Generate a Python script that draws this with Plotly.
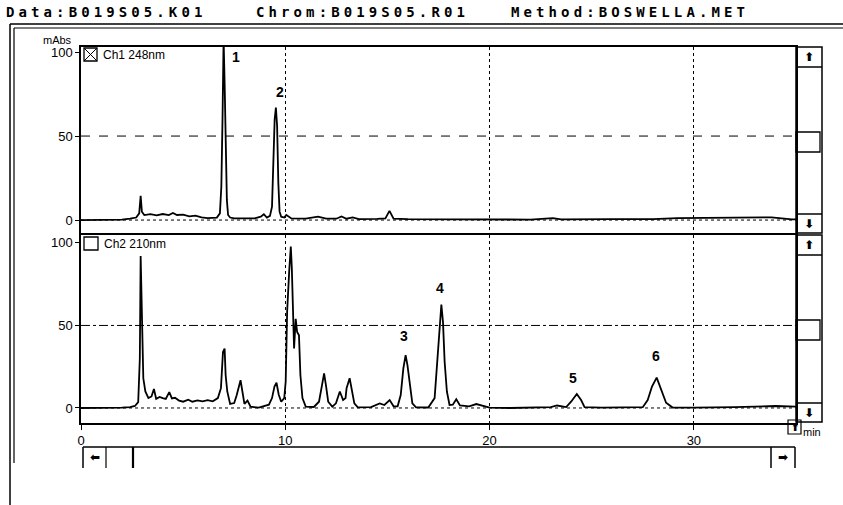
import plotly.graph_objects as go

# ---------------- data ----------------
ch1_time = [0, 1.0, 2.0, 2.4, 2.7, 2.85, 2.92, 2.98, 3.1, 3.4, 3.7, 4.0, 4.3, 4.5, 4.7, 5.0,
            5.3, 5.6, 5.9, 6.2, 6.5, 6.65, 6.8, 6.87, 6.93, 6.98, 7.03, 7.08, 7.14, 7.2, 7.3,
            7.5, 8.0, 8.5, 8.8, 8.95, 9.1, 9.25, 9.35, 9.42, 9.48, 9.54, 9.6, 9.66, 9.72, 9.8,
            9.95, 10.05, 10.3, 11.0, 11.6, 12.0, 12.5, 12.75, 13.0, 13.3, 13.6, 14.5, 14.9,
            15.1, 15.3, 16, 18, 20, 22, 23.1, 23.5, 26, 28, 29.2, 31, 33.8, 34.8, 35]
ch1_mabs = [0, 0, 0.3, 0.8, 1.5, 4, 14.5, 5, 3, 3.5, 2.8, 3.6, 3, 4.2, 3, 3.2,
            2.2, 2.6, 1.6, 1.2, 1.2, 1.5, 4, 20, 62, 108, 82, 45, 12, 3, 1.5,
            1, 0.8, 1, 2, 3.5, 1.5, 2.5, 8, 30, 60, 67, 56, 22, 5, 2,
            1.5, 3, 1, 0.8, 2, 0.8, 0.8, 2.2, 0.8, 1.6, 0.6, 0.7, 1,
            5.5, 0.8, 0.5, 0.4, 0.4, 0.3, 1.2, 0.4, 0.5, 0.6, 1.2, 1.3, 1.6, 0.4, 0.4]

ch2_time = [0, 1, 2.0, 2.4, 2.64, 2.8, 2.88, 2.92, 2.96, 3.0, 3.05, 3.15, 3.3, 3.45, 3.57,
            3.68, 3.85, 4.0, 4.15, 4.32, 4.45, 4.6, 4.8, 5.0, 5.25, 5.45, 5.7, 5.95, 6.2,
            6.45, 6.7, 6.85, 6.95, 7.03, 7.08, 7.16, 7.3, 7.5, 7.62, 7.81, 7.9, 8.0, 8.15,
            8.3, 8.7, 9.0, 9.2, 9.35, 9.47, 9.57, 9.68, 9.8, 9.95, 10.02, 10.09, 10.19,
            10.27, 10.32, 10.38, 10.43, 10.51, 10.58, 10.67, 10.74, 10.84, 11.0, 11.4,
            11.65, 11.8, 11.9, 12.0, 12.1, 12.3, 12.48, 12.67, 12.83, 12.95, 13.0, 13.15,
            13.27, 13.38, 13.55, 14.2, 14.62, 14.85, 15.11, 15.3, 15.5, 15.65, 15.78,
            15.89, 15.98, 16.1, 16.22, 16.4, 17.0, 17.31, 17.42, 17.52, 17.64, 17.72,
            17.8, 17.91, 18.04, 18.2, 18.37, 18.55, 19.0, 19.35, 19.6, 20.0, 21, 22, 23,
            23.3, 23.75, 23.99, 24.27, 24.48, 24.65, 25.5, 26.5, 27.5, 27.74, 27.95,
            28.18, 28.4, 28.64, 28.96, 30, 32, 34, 35]
ch2_mabs = [0, 0, 0.2, 0.5, 1.2, 3.5, 30, 92, 62, 40, 18, 10, 6, 7, 11.5,
            5.5, 6.7, 6, 5.5, 9.6, 5.8, 6.2, 4.5, 3.8, 5, 3.8, 4.6, 4, 4.8,
            4, 6, 12, 34, 36, 20, 10, 2.5, 3, 7.7, 16.8, 10, 2.5, 4.5,
            0.8, 0.2, 1.2, 2, 6, 13, 15.3, 8, 3.8, 6, 16, 58, 82.6,
            97.8, 85, 64, 36, 54, 46, 44, 20, 6, 0.8, 0.6,
            3.8, 14, 21, 12.9, 3.8, 0.8, 2.8, 10, 4.8, 6, 12, 18,
            10, 2.8, 0.4, 0.5, 2.8, 1.8, 4.8, 1, 1, 7.8, 24,
            32, 26, 14, 2.8, 0.4, 0.3, 6, 24, 44, 62.6, 52,
            28, 10, 1.8, 2, 5.3, 1.5, 1, 2.4, 1.5, 0.2, 0, 0.2, 0.5,
            1.5, 0.5, 3.8, 8.5, 4.8, 0.5, 0.2, 0.2, 0.5, 4.8, 13,
            18.4, 11, 3.2, 0.3, 0.2, 0.5, 1.2, 0.8]

peak_labels = ["1", "2", "3", "4", "5", "6"]
peak_label_time = [7.6, 9.73, 15.8, 17.55, 24.06, 28.17]
peak_label_mabs = [97, 76, 43.6, 72.7, 18, 31.5]
peak_label_panel = [1, 1, 2, 2, 2, 2]

x_tick_vals = [0, 10, 20, 30]
x_tick_text = ["0", "10", "20", "30"]
y_tick_vals = [0, 50, 100]
y_tick_text = ["0", "50", "100"]

header_texts = ["Data:B019S05.K01", "Chrom:B019S05.R01", "Method:BOSWELLA.MET"]
channel_names = ["Ch1 248nm", "Ch2 210nm"]

# ---------------- geometry helpers (pixel -> paper) ----------------
W, H = 843, 505
ML, MR, MT, MB = 81, 47, 47, 82
PW, PH = W - ML - MR, H - MT - MB


def px(x):
    return (x - ML) / PW


def py(y):
    return (H - MB - y) / PH


FONT = "Liberation Sans"
fig = go.Figure()

fig.add_trace(go.Scatter(x=ch1_time, y=ch1_mabs, mode="lines", xaxis="x", yaxis="y",
                         line=dict(color="black", width=1.8), hoverinfo="skip", showlegend=False))
fig.add_trace(go.Scatter(x=ch2_time, y=ch2_mabs, mode="lines", xaxis="x2", yaxis="y2",
                         line=dict(color="black", width=1.8), hoverinfo="skip", showlegend=False))

shapes = []
annotations = []

# header (first three annotations; letter-spacing adjusted in post_script)
for txt, x0 in zip(header_texts, [4, 254, 509]):
    annotations.append(dict(text=txt, xref="paper", yref="paper", x=px(x0), y=py(12),
                            xanchor="left", yanchor="middle", align="left", showarrow=False,
                            font=dict(family="DejaVu Sans Mono", size=14, color="black", weight="bold")))


def line(x0, y0, x1, y1, w=1.2, dash="solid"):
    shapes.append(dict(type="line", xref="paper", yref="paper", x0=px(x0), y0=py(y0),
                       x1=px(x1), y1=py(y1), line=dict(color="black", width=w, dash=dash)))


def rect(x0, y0, x1, y1, w=1.3):
    shapes.append(dict(type="rect", xref="paper", yref="paper", x0=px(x0), y0=py(y0),
                       x1=px(x1), y1=py(y1), line=dict(color="black", width=w)))


def text(t, x, y, size=11, xa="center", fam=FONT, bold=False):
    annotations.append(dict(text=t, xref="paper", yref="paper", x=px(x), y=py(y),
                            xanchor=xa, yanchor="middle", showarrow=False,
                            font=dict(family=fam, size=size, color="black",
                                      weight="bold" if bold else "normal")))


# window frame
line(10, 24, 843, 24, 1.5)
line(14, 28, 843, 28, 1.2)
line(10, 24, 10, 505, 1.5)
line(14, 28, 14, 463, 1.2)

# mAbs label
text("mAbs", 57, 40, 11)

# channel check boxes
rect(84, 48, 97, 61)
line(84, 48, 97, 61, 1)
line(84, 61, 97, 48, 1)
text(channel_names[0], 101, 55, 12, xa="left")
rect(84, 237, 98, 250)
text(channel_names[1], 102, 244, 12, xa="left")

# vertical scrollbars
for (top, bot, thumb) in [(47, 233, 132), (235, 422, 320)]:
    rect(796, top, 822, bot, 1.5)
    line(796, top + 20, 822, top + 20, 1.5)
    line(796, bot - 19, 822, bot - 19, 1.5)
    rect(796, thumb, 820, thumb + 20, 1.3)
    text("⬆", 809, top + 10, 12, fam="DejaVu Sans", bold=True)
    text("⬇", 809, bot - 9, 12, fam="DejaVu Sans", bold=True)

# min button
rect(788, 420, 801, 434, 1.2)
text("⬆", 794.5, 427, 10, fam="DejaVu Sans", bold=True)
text("min", 801, 432, 11, xa="left")

# horizontal scrollbar
line(83, 447, 795, 447, 1.5)
line(83, 447, 83, 468, 1.5)
line(106, 447, 106, 468, 1.2)
line(133, 447, 133, 468, 2.2)
line(771, 447, 771, 468, 1.5)
line(795, 447, 795, 468, 1.5)
text("⬅", 95, 457, 12, fam="DejaVu Sans", bold=True)
text("➡", 783, 457, 12, fam="DejaVu Sans", bold=True)

# horizontal grid lines
for yref in ["y", "y2"]:
    shapes.append(dict(type="line", xref="x domain" if yref == "y" else "x2 domain", yref=yref,
                       x0=0, x1=1, y0=50, y1=50,
                       line=dict(color="black", width=1, dash="dash" if yref == "y" else "dashdot"),
                       layer="below"))
    shapes.append(dict(type="line", xref="x domain" if yref == "y" else "x2 domain", yref=yref,
                       x0=0, x1=1, y0=0, y1=0,
                       line=dict(color="black", width=1, dash="dot"), layer="below"))

# peak labels
for lab, t, v, p in zip(peak_labels, peak_label_time, peak_label_mabs, peak_label_panel):
    annotations.append(dict(text=lab, x=t, y=v, xref="x" if p == 1 else "x2",
                            yref="y" if p == 1 else "y2", showarrow=False,
                            font=dict(family=FONT, size=14, color="black", weight="bold")))

axis_common = dict(showline=True, mirror=True, linecolor="black", linewidth=1.5,
                   zeroline=False, tickfont=dict(family=FONT, size=13, color="black"),
                   fixedrange=True)

fig.update_layout(
    width=W, height=H,
    margin=dict(l=ML, r=MR, t=MT, b=MB),
    paper_bgcolor="white", plot_bgcolor="white",
    showlegend=False,
    xaxis=dict(domain=[0, 1], anchor="y", range=[0, 35], tickvals=[10, 20, 30],
               showticklabels=False, ticks="", showgrid=True, gridcolor="black",
               griddash="dot", gridwidth=1, **axis_common),
    xaxis2=dict(domain=[0, 1], anchor="y2", range=[0, 35], tickvals=x_tick_vals,
                ticktext=x_tick_text, ticks="outside", ticklen=5, tickcolor="black",
                showgrid=True, gridcolor="black", griddash="dot", gridwidth=1, **axis_common),
    yaxis=dict(domain=[(H - MB - 233) / PH, 1], anchor="x", range=[-7.7, 103],
               tickvals=y_tick_vals, ticktext=y_tick_text, ticks="outside", ticklen=4,
               tickcolor="black", showgrid=False, **axis_common),
    yaxis2=dict(domain=[0, (H - MB - 235) / PH], anchor="x2", range=[-9.1, 104.8],
                tickvals=y_tick_vals, ticktext=y_tick_text, ticks="outside", ticklen=4,
                tickcolor="black", showgrid=False, **axis_common),
    shapes=shapes,
    annotations=annotations,
    font=dict(family=FONT, color="black"),
)

post = """
document.body.style.margin = '0';
document.body.style.overflow = 'hidden';
var gd = document.getElementById('{plot_id}');
function ls(){
  gd.querySelectorAll('g.annotation').forEach(function(g){
    var i = +g.getAttribute('data-index');
    if (i < 3) {
      var t = g.querySelector('text.annotation-text');
      if (t) { t.style.letterSpacing = '4.1px'; }
    }
  });
}
ls();
if (gd.on) { gd.on('plotly_afterplot', ls); }
setTimeout(ls, 50);
"""

fig.write_html("out.html", post_script=post, config={"displayModeBar": False})
